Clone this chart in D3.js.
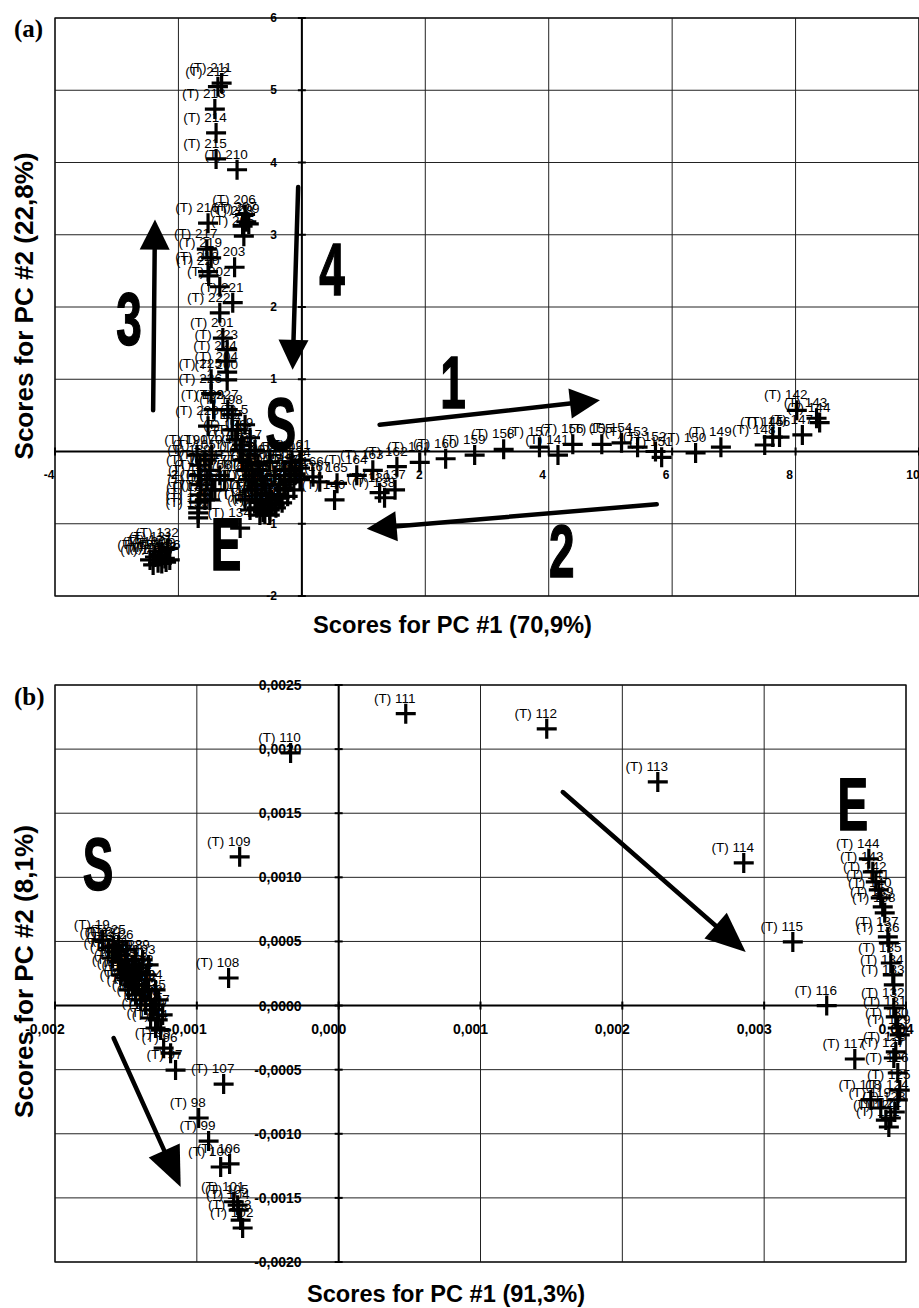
<!DOCTYPE html>
<html><head><meta charset="utf-8">
<script src="https://cdn.jsdelivr.net/npm/d3@7/dist/d3.min.js"></script>
<style>body{margin:0;background:#fff}svg{display:block}</style>
</head><body>
<svg id="c" width="919" height="1308"></svg>
<script>
// ---------------- Panel (a) data ----------------
const aXTicks = [-4, -2, 0, 2, 4, 6, 8, 10];
const aXTickLabels = ["-4", "-2", "0", "2", "4", "6", "8", "10"];
const aYTicks = [-2, -1, 0, 1, 2, 3, 4, 5, 6];
const aYTickLabels = ["-2", "-1", "", "1", "2", "3", "4", "5", "6"];

// upper (vertical) branch
const aUpId = [211, 212, 213, 214, 215, 210, 206, 207, 208, 209, 205, 216, 217, 219, 218, 220, 203, 202, 221, 222, 201, 223, 224, 204, 200, 225, 226, 227, 199, 228, 198];
const aUpPC1 = [-1.30, -1.36, -1.41, -1.39, -1.39, -1.05, -0.92, -0.90, -0.96, -0.86, -0.94, -1.52, -1.54, -1.47, -1.52, -1.51, -1.09, -1.33, -1.12, -1.33, -1.28, -1.21, -1.23, -1.21, -1.21, -1.47, -1.47, -1.20, -1.43, -1.52, -1.13];
const aUpPC2 = [5.10, 5.05, 4.74, 4.41, 4.05, 3.90, 3.28, 3.18, 3.12, 3.15, 2.98, 3.16, 2.80, 2.68, 2.49, 2.43, 2.55, 2.28, 2.06, 1.92, 1.57, 1.41, 1.25, 1.10, 0.99, 1.00, 0.80, 0.58, 0.58, 0.35, 0.51];

// dense cluster around the origin (S)
const aClId = [197, 196, 195, 194, 193, 192, 191, 184, 183, 182, 181, 180, 179, 178, 177, 176, 175, 174, 172, 171, 170, 169, 168, 190, 189, 188, 187, 186, 185, 3, 8, 14, 21, 27, 33, 40, 46, 52, 58, 64, 71, 77,
  2, 5, 9, 12, 17, 23, 29, 35, 38, 43, 49, 55, 61, 67, 70, 73, 76, 80, 83, 86, 89, 92, 95, 97, 99, 101, 103, 105, 107, 109, 111, 113];
const aClPC1 = [-1.13, -1.07, -1.00, -0.96, -0.91, -0.86, -0.81, -0.76, -0.73, -0.68, -0.60, -0.52, -0.44, -0.36, -0.28, -0.19, -0.11, -0.03, -0.92, -0.84, -1.46, -0.65, -0.52, -1.70, -1.65, -1.67, -1.64, -1.65, -1.67, -0.36, -0.19, -0.76, -0.60, -0.44, -0.28, -0.68, -0.84, -0.52, -1.25, -1.41, -1.49, -1.33,
  -1.04, -0.92, -0.84, -0.97, -0.76, -0.87, -0.71, -0.81, -0.65, -0.74, -0.58, -0.68, -0.55, -0.63, -0.49, -0.39, -0.29, -0.19, -0.10, -0.03, -0.13, -0.23, -0.32, -0.42, -0.52, -0.03, -0.16, -1.57, -1.54, -1.57, -1.49, -1.46];
const aClPC2 = [0.30, 0.16, 0.02, -0.12, -0.26, -0.39, -0.53, -0.67, -0.78, -0.88, -0.87, -0.81, -0.74, -0.64, -0.53, -0.42, -0.33, -0.23, -0.67, -0.81, -0.05, -0.67, -0.60, -0.05, -0.19, -0.33, -0.46, -0.60, -0.70, -0.46, -0.26, -0.39, -0.46, -0.33, -0.26, -0.26, -0.05, -0.15, -0.39, -0.53, -0.67, -0.33,
  0.30, 0.37, 0.19, 0.09, 0.02, -0.15, -0.19, -0.33, -0.39, -0.53, -0.60, -0.70, -0.74, -0.84, -0.67, -0.60, -0.51, -0.39, -0.31, -0.39, -0.53, -0.62, -0.71, -0.78, -0.88, -0.12, -0.15, -0.12, -0.39, -0.67, -0.26, -0.53];

// lower-left cluster and points near E
const aLoId = [132, 131, 130, 129, 128, 127, 126, 125, 124, 123, 122, 134, 133, 135, 136];
const aLoPC1 = [-2.17, -2.27, -2.38, -2.22, -2.46, -2.30, -2.14, -2.41, -2.33, -2.20, -2.27, -1.00, -1.68, -1.68, -1.68];
const aLoPC2 = [-1.34, -1.39, -1.46, -1.48, -1.50, -1.43, -1.50, -1.57, -1.54, -1.53, -1.55, -1.06, -0.92, -0.85, -0.78];

// right (horizontal) branch
const aRtId = [167, 166, 165, 164, 163, 162, 161, 160, 159, 158, 157, 141, 156, 155, 154, 153, 152, 151, 150, 149, 148, 145, 146, 147, 142, 143, 144, 140, 139, 138, 137];
const aRtPC1 = [0.29, 0.18, 0.57, 0.89, 1.15, 1.54, 1.91, 2.33, 2.80, 3.27, 3.85, 4.15, 4.39, 4.86, 5.18, 5.44, 5.73, 5.83, 6.38, 6.79, 7.50, 7.63, 7.74, 8.11, 8.02, 8.34, 8.39, 0.53, 1.26, 1.34, 1.51];
const aRtPC2 = [-0.42, -0.35, -0.44, -0.33, -0.26, -0.21, -0.15, -0.10, -0.05, 0.03, 0.06, -0.05, 0.10, 0.10, 0.12, 0.06, 0.00, -0.08, -0.02, 0.06, 0.09, 0.20, 0.20, 0.23, 0.57, 0.46, 0.40, -0.67, -0.57, -0.64, -0.53];

// annotations (a), data units
const aArrows = [ // [x1, y1, xTip, yTip]
  [1.26, 0.37, 4.83, 0.71],
  [5.75, -0.73, 1.05, -1.07],
  [-2.41, 0.57, -2.38, 3.21],
  [-0.06, 3.66, -0.15, 1.13]
];
const aMarks = ["S", "E", "1", "2", "3", "4"];
const aMarkPC1 = [-0.34, -1.23, 2.45, 4.21, -2.80, 0.49];
const aMarkPC2 = [0.02, -1.64, 0.60, -1.74, 1.48, 2.17];

// ---------------- Panel (b) data ----------------
const bXTicks = [-0.002, -0.001, 0, 0.001, 0.002, 0.003, 0.004];
const bXTickLabels = ["-0,002", "-0,001", "0,000", "0,001", "0,002", "0,003", "0,004"];
const bYTicks = [-0.002, -0.0015, -0.001, -0.0005, 0, 0.0005, 0.001, 0.0015, 0.002, 0.0025];
const bYTickLabels = ["-0,0020", "-0,0015", "-0,0010", "-0,0005", "0,0000", "0,0005", "0,0010", "0,0015", "0,0020", "0,0025"];

// start cluster (S)
const bSId = [19, 20, 21, 24, 27, 30, 33, 36, 39, 42, 45, 48, 51, 54, 57, 60, 63, 66, 69, 72, 75, 78, 81, 84, 87, 90, 92, 93, 94, 95, 96, 97,
  22, 23, 25, 26, 28, 29, 31, 32, 34, 35, 37, 38, 40, 41];
const bSPC1 = [-0.001664, -0.001587, -0.001573, -0.001537, -0.001551, -0.001502, -0.001481, -0.001523, -0.001453, -0.001432, -0.001467, -0.001396, -0.001410, -0.001361, -0.001382, -0.001340, -0.001326, -0.001361, -0.001312, -0.001291, -0.001326, -0.001276, -0.001291, -0.001255, -0.001432, -0.001481, -0.001396, -0.001340, -0.001502, -0.001234, -0.001185, -0.001150,
  -0.001622, -0.001594, -0.001551, -0.001495, -0.001432, -0.001382, -0.001410, -0.001354, -0.001291, -0.001269, -0.001241, -0.001368, -0.001453, -0.001537];
const bSPC2 = [0.000511, 0.000457, 0.000418, 0.000395, 0.000340, 0.000356, 0.000293, 0.000278, 0.000317, 0.000239, 0.000200, 0.000262, 0.000161, 0.000200, 0.000106, 0.000122, 0.000044, 0.000005, -0.000034, 0.000005, -0.000097, -0.000112, -0.000175, -0.000191, 0.000083, 0.000122, 0.000044, 0.000317, 0.000215, -0.000332, -0.000371, -0.000503,
  0.000449, 0.000371, 0.000473, 0.000434, 0.000356, 0.000356, 0.000293, 0.000239, 0.000122, 0.000044, -0.000073, 0.000122, 0.000161, 0.000239];

// transition points
const bTrId = [98, 99, 100, 106, 101, 105, 104, 103, 102, 107, 108, 109, 110, 111, 112, 113, 114, 115, 116, 117];
const bTrPC1 = [-0.000987, -0.000917, -0.000832, -0.000769, -0.000740, -0.000712, -0.000705, -0.000691, -0.000677, -0.000811, -0.000776, -0.000698, -0.000339, 0.000473, 0.001467, 0.002250, 0.002856, 0.003202, 0.003441, 0.003639];
const bTrPC2 = [-0.000877, -0.001057, -0.001259, -0.001235, -0.001530, -0.001557, -0.001595, -0.001673, -0.001735, -0.000612, 0.000215, 0.001160, 0.001970, 0.002276, 0.002158, 0.001744, 0.001112, 0.000496, 0.000000, -0.000417];

// end cluster (E)
const bEId = [144, 143, 142, 141, 140, 139, 138, 137, 136, 135, 134, 133, 132, 131, 130, 129, 128, 127, 126, 125, 124, 123, 122, 121, 120, 119, 118];
const bEPC1 = [0.003738, 0.003766, 0.003787, 0.003808, 0.003822, 0.003836, 0.003850, 0.003872, 0.003879, 0.003893, 0.003907, 0.003914, 0.003914, 0.003928, 0.003942, 0.003956, 0.003928, 0.003914, 0.003942, 0.003956, 0.003942, 0.003921, 0.003893, 0.003879, 0.003858, 0.003822, 0.003752];
const bEPC2 = [0.001144, 0.001043, 0.000965, 0.000902, 0.000840, 0.000770, 0.000723, 0.000535, 0.000489, 0.000332, 0.000239, 0.000161, -0.000019, -0.000089, -0.000175, -0.000229, -0.000362, -0.000409, -0.000526, -0.000659, -0.000736, -0.000830, -0.000877, -0.000947, -0.000893, -0.000799, -0.000736];

// annotations (b)
const bArrows = [
  [0.00158, 0.001665, 0.00287, 0.000418],
  [-0.001587, -0.000253, -0.001114, -0.001415]
];
const bMarks = ["S", "E"];
const bMarkPC1 = [-0.001696, 0.003625];
const bMarkPC2 = [0.000902, 0.001373];

// ---------------- drawing ----------------
const svg = d3.select("#c");
svg.append("rect").attr("width", 919).attr("height", 1308).attr("fill", "#fff");

function zipPts(ids, xs, ys) { return ids.map((d, i) => ({ id: d, x: xs[i], y: ys[i] })); }

function panel(cfg) {
  const g = svg.append("g");
  const x = d3.scaleLinear().domain(cfg.xDomain).range(cfg.xRange);
  const y = d3.scaleLinear().domain(cfg.yDomain).range(cfg.yRange);
  const [x0, x1] = cfg.xRange, [y0, y1] = cfg.yRange;
  // grid
  g.selectAll(null).data(cfg.xTicks).join("line")
    .attr("x1", d => x(d)).attr("x2", d => x(d)).attr("y1", y0).attr("y2", y1)
    .attr("stroke", "#222").attr("stroke-width", 1);
  g.selectAll(null).data(cfg.yTicks).join("line")
    .attr("y1", d => y(d)).attr("y2", d => y(d)).attr("x1", x0).attr("x2", x1)
    .attr("stroke", "#222").attr("stroke-width", 1);
  g.append("rect").attr("x", x0).attr("y", y1).attr("width", x1 - x0).attr("height", y0 - y1)
    .attr("fill", "none").attr("stroke", "#111").attr("stroke-width", 1.3);
  // axes at zero
  g.append("line").attr("x1", x0).attr("x2", x1).attr("y1", y(0)).attr("y2", y(0)).attr("stroke", "#000").attr("stroke-width", 2);
  g.append("line").attr("x1", x(0)).attr("x2", x(0)).attr("y1", y0).attr("y2", y1).attr("stroke", "#000").attr("stroke-width", 2);
  // tick marks
  g.selectAll(null).data(cfg.xTicks).join("line")
    .attr("x1", d => x(d)).attr("x2", d => x(d)).attr("y1", y(0) - 4).attr("y2", y(0) + 4)
    .attr("stroke", "#000").attr("stroke-width", 2);
  g.selectAll(null).data(cfg.yTicks).join("line")
    .attr("y1", d => y(d)).attr("y2", d => y(d)).attr("x1", x(0) - 4).attr("x2", x(0) + 4)
    .attr("stroke", "#000").attr("stroke-width", 2);
  // tick labels
  g.selectAll(null).data(cfg.xTicks).join("text")
    .attr("x", d => x(d) + cfg.xLabDx).attr("y", y(0) + cfg.xLabDy)
    .attr("text-anchor", "middle").attr("dominant-baseline", "central")
    .attr("font-family", "Liberation Sans, Arial, sans-serif").attr("font-weight", "bold")
    .attr("font-size", cfg.tickFont).text((d, i) => cfg.xTickLabels[i]);
  g.selectAll(null).data(cfg.yTicks).join("text")
    .attr("x", x(0) - cfg.yLabGap).attr("y", d => y(d))
    .attr("text-anchor", "end").attr("dominant-baseline", "central")
    .attr("font-family", "Liberation Sans, Arial, sans-serif").attr("font-weight", "bold")
    .attr("font-size", cfg.tickFont).text((d, i) => cfg.yTickLabels[i]);
  // annotation arrows
  cfg.arrows.forEach(a => {
    const sx = x(a[0]), sy = y(a[1]), tx = x(a[2]), ty = y(a[3]);
    const dx = tx - sx, dy = ty - sy, L = Math.hypot(dx, dy);
    const ux = dx / L, uy = dy / L, px = -uy, py = ux;
    const hl = cfg.headLen, hw = cfg.headW / 2;
    const bx = tx - ux * hl, by = ty - uy * hl;
    g.append("line").attr("x1", sx).attr("y1", sy).attr("x2", bx + ux * 2).attr("y2", by + uy * 2)
      .attr("stroke", "#000").attr("stroke-width", 4.5).attr("stroke-linecap", "round");
    g.append("path").attr("d", `M${tx},${ty}L${bx + px * hw},${by + py * hw}L${bx - px * hw},${by - py * hw}Z`).attr("fill", "#000");
  });
  // big letters
  cfg.marks.forEach((m, i) => {
    g.append("text").attr("transform", `translate(${x(cfg.markX[i])},${y(cfg.markY[i])}) scale(0.62,1)`)
      .attr("text-anchor", "middle").attr("font-family", "Liberation Sans, Arial, sans-serif")
      .attr("font-weight", "bold").attr("font-size", 74).attr("stroke", "#000").attr("stroke-width", 1.5).text(m);
  });
  // points
  const pts = cfg.points;
  const cs = 10;
  g.selectAll(null).data(pts).join("path")
    .attr("d", d => `M${x(d.x) - cs},${y(d.y)}H${x(d.x) + cs}M${x(d.x)},${y(d.y) - cs}V${y(d.y) + cs}`)
    .attr("stroke", "#000").attr("stroke-width", 3.2).attr("fill", "none");
  g.selectAll(null).data(pts).join("text")
    .attr("x", d => x(d.x) - 11).attr("y", d => y(d.y) - 11)
    .attr("text-anchor", "middle").attr("font-family", "Liberation Sans, Arial, sans-serif")
    .attr("font-size", 13.5).attr("fill", "#000").text(d => "(T) " + d.id);
  // titles
  g.append("text").attr("x", cfg.xt[0]).attr("y", cfg.xt[1]).attr("text-anchor", "middle")
    .attr("font-family", "Liberation Sans, Arial, sans-serif").attr("font-weight", "bold").attr("font-size", 23)
    .attr("textLength", cfg.xt[2]).attr("lengthAdjust", "spacingAndGlyphs").text(cfg.xTitle);
  g.append("text").attr("transform", `translate(${cfg.yt[0]},${cfg.yt[1]}) rotate(-90)`).attr("text-anchor", "middle")
    .attr("font-family", "Liberation Sans, Arial, sans-serif").attr("font-weight", "bold").attr("font-size", 25)
    .attr("textLength", cfg.yt[2]).attr("lengthAdjust", "spacingAndGlyphs").text(cfg.yTitle);
  g.append("text").attr("x", cfg.tag[0]).attr("y", cfg.tag[1])
    .attr("font-family", "Liberation Serif, Times New Roman, serif").attr("font-weight", "bold").attr("font-size", 25)
    .text(cfg.tagText);
}

panel({
  xDomain: [-4, 10], xRange: [55, 919], yDomain: [-2, 6], yRange: [596, 18],
  xTicks: aXTicks, xTickLabels: aXTickLabels, yTicks: aYTicks, yTickLabels: aYTickLabels,
  xLabDx: -6, xLabDy: 23, yLabGap: 25, tickFont: 12,
  arrows: aArrows, headLen: 30, headW: 30,
  marks: aMarks, markX: aMarkPC1, markY: aMarkPC2,
  points: [].concat(zipPts(aClId, aClPC1, aClPC2), zipPts(aLoId, aLoPC1, aLoPC2), zipPts(aRtId, aRtPC1, aRtPC2), zipPts(aUpId, aUpPC1, aUpPC2)),
  xTitle: "Scores for PC #1 (70,9%)", xt: [452.5, 633, 279],
  yTitle: "Scores for PC #2 (22,8%)", yt: [33, 306, 307],
  tag: [14, 37], tagText: "(a)"
});

panel({
  xDomain: [-0.002, 0.004], xRange: [55, 906], yDomain: [-0.002, 0.0025], yRange: [1262, 685],
  xTicks: bXTicks, xTickLabels: bXTickLabels, yTicks: bYTicks, yTickLabels: bYTickLabels,
  xLabDx: -10, xLabDy: 23, yLabGap: 37, tickFont: 14,
  arrows: bArrows, headLen: 40, headW: 34,
  marks: bMarks, markX: bMarkPC1, markY: bMarkPC2,
  points: [].concat(zipPts(bSId, bSPC1, bSPC2), zipPts(bTrId, bTrPC1, bTrPC2), zipPts(bEId, bEPC1, bEPC2)),
  xTitle: "Scores for PC #1 (91,3%)", xt: [446, 1302, 278],
  yTitle: "Scores for PC #2 (8,1%)", yt: [33, 971.5, 293],
  tag: [14, 705], tagText: "(b)"
});
</script>
</body></html>
